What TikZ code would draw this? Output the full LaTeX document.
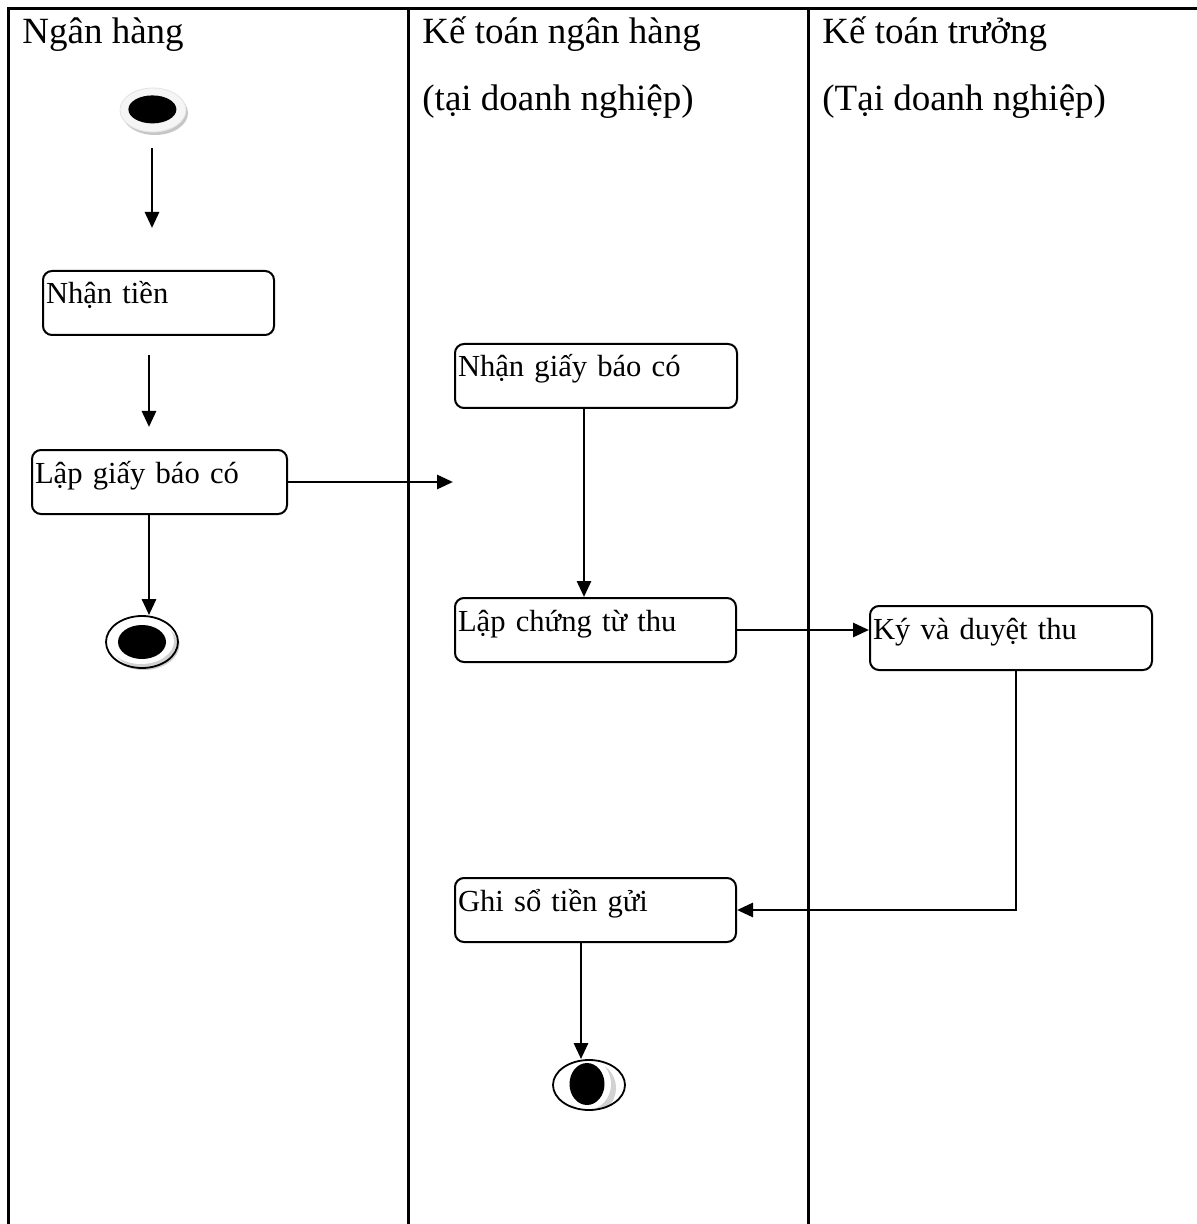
\documentclass[tikz,border=0pt]{standalone}
\usepackage{fontspec}
\setmainfont{Liberation Serif}
\usetikzlibrary{arrows.meta,shadows,shapes.geometric}
\begin{document}
\begin{tikzpicture}[x=0.5pt,y=-0.5pt,
  lane/.style={line width=1.5pt},
  head/.style={anchor=base west, inner sep=0pt, font=\fontsize{18.5}{22}\selectfont},
  act/.style={draw, line width=1pt, rounded corners=4.5pt, anchor=north west,
    inner xsep=1.5pt, inner ysep=0pt, text height=16.5pt, text depth=15.5pt,
    align=left, font=\fontsize{15.3}{19}\selectfont},
  flow/.style={line width=1.4pt, -{Triangle[length=8pt,width=7pt]}},
  initial/.style={ellipse, minimum width=33pt, minimum height=22pt, inner sep=0pt,
    fill=gray!8, draw=gray!22, line width=0.4pt,
    drop shadow={shadow xshift=1pt, shadow yshift=-1.5pt, fill=gray!45, opacity=1},
    path picture={\fill[black] ([xshift=-0.3pt,yshift=0.3pt]path picture bounding box.center)
      ellipse [x radius=12pt, y radius=7pt];}},
  final/.style={ellipse, minimum width=36pt, minimum height=26pt, inner sep=0pt,
    draw, line width=0.9pt, fill=white,
    drop shadow={shadow xshift=0.8pt, shadow yshift=-1pt, fill=gray!40, opacity=1},
    path picture={
      \fill[gray!35] ([xshift=1.5pt,yshift=-1.5pt]path picture bounding box.center)
        ellipse [x radius=16.5pt, y radius=11.5pt];
      \fill[white] ([xshift=-0.5pt,yshift=0.5pt]path picture bounding box.center)
        ellipse [x radius=16.5pt, y radius=11.5pt];
      \fill[black] (path picture bounding box.center)
        ellipse [x radius=12pt, y radius=8.5pt];}},
  finalv/.style={ellipse, minimum width=36pt, minimum height=25pt, inner sep=0pt,
    draw, line width=0.9pt, fill=white,
    path picture={
      \fill[gray!35] ([xshift=1pt,yshift=-1.5pt]path picture bounding box.center)
        ellipse [x radius=12.5pt, y radius=13pt];
      \fill[white] ([xshift=-1pt,yshift=0.5pt]path picture bounding box.center)
        ellipse [x radius=12pt, y radius=13pt];
      \fill[black] ([xshift=-1pt,yshift=0.5pt]path picture bounding box.center)
        ellipse [x radius=8.75pt, y radius=10.5pt];}},
]
\useasboundingbox (0,0) rectangle (1197,1224);

% swimlanes
\draw[lane] (8,1224) -- (8,9) -- (1197,9);
\draw[lane] (408,9) -- (408,1224);
\draw[lane] (808,9) -- (808,1224);

% lane headers
\node[head] (h1)  at (22,44)  {Ngân hàng};
\node[head] (h2a) at (422,44) {Kế toán ngân hàng};
\node[head] (h2b) at (422,111) {(tại doanh nghiệp)};
\node[head] (h3a) at (822,44) {Kế toán trưởng};
\node[head] (h3b) at (822,111) {(Tại doanh nghiệp)};

% start / end states
\node[initial] (start) at (153,110) {};
\node[final]   (end1)  at (142,642) {};
\node[finalv]  (end2)  at (589,1085) {};

% activities (text kept in one box so the spaces stay natural)
\node[act, text width=112.5pt] (nt)  at (42,270)  {\mbox{Nhận tiền}};
\node[act, text width=124.5pt] (lg)  at (31,449)  {\mbox{Lập giấy báo có}};
\node[act, text width=138pt]   (ngb) at (454,343) {\mbox{Nhận giấy báo có}};
\node[act, text width=137.5pt] (lct) at (454,597) {\mbox{Lập chứng từ thu}};
\node[act, text width=138pt]   (kd)  at (869,605) {\mbox{Ký và duyệt thu}};
\node[act, text width=137.5pt] (gs)  at (454,877) {\mbox{Ghi sổ tiền gửi}};

\coordinate (lgto) at (453,481);

% flows
\draw[flow, shorten <=8pt, shorten >=21pt] ([xshift=-0.5pt]start.south) -- ([xshift=-0.5pt]start.south |- nt.north);
\draw[flow, shorten <=9.5pt, shorten >=11pt] ([xshift=-4.75pt]nt.south) -- ([xshift=-4.75pt]nt.south |- lg.north);
\draw[flow] ([xshift=-5.25pt]lg.south) -- ([xshift=-5.25pt]lg.south |- end1.north);
\draw[flow] (lg.east) -- (lg.east -| lgto);
\draw[flow] ([xshift=-6pt]ngb.south) -- ([xshift=-6pt]ngb.south |- lct.north);
\draw[flow] (lct.east) -- (lct.east -| kd.west);
\draw[flow] ([xshift=2.5pt]kd.south) |- (gs.east);
\draw[flow] ([xshift=-7.25pt]gs.south) -- ([xshift=-7.25pt]gs.south |- end2.north);
\end{tikzpicture}
\end{document}
